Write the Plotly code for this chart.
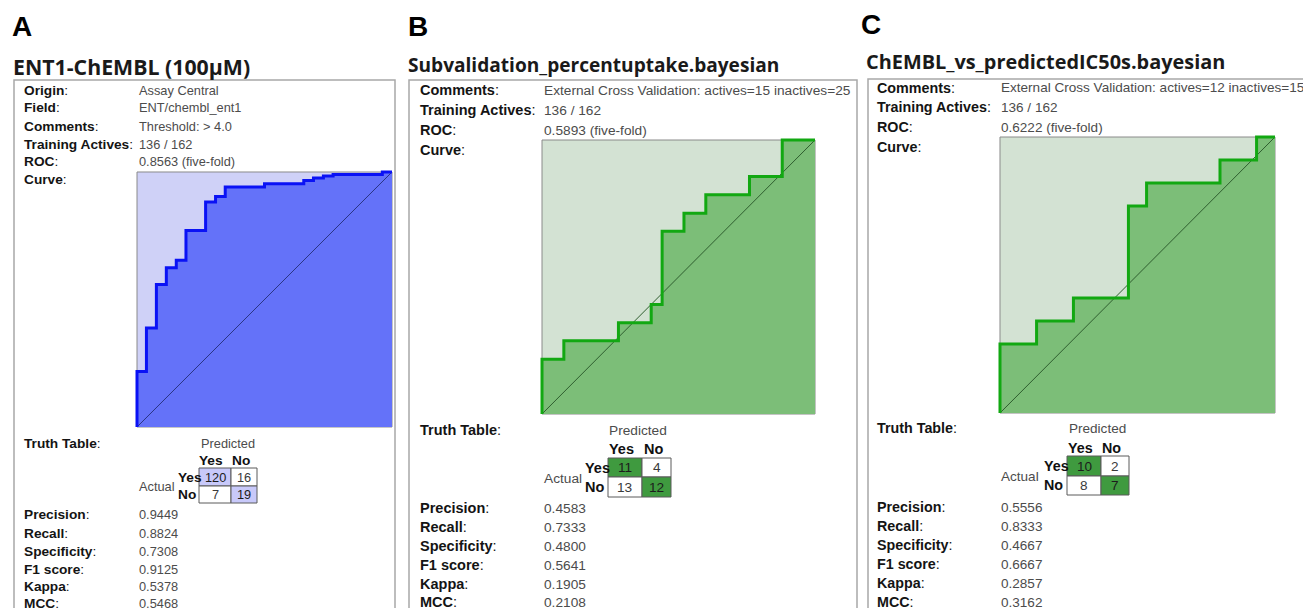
import plotly.graph_objects as go

# The page body has an 8px margin, so the figure is drawn 8px in from the corner.
OFF = 8
W, H = 1311 - OFF, 608 - OFF

# ---------------- data ----------------
panel_letters = ["A", "B", "C"]
titles = ["ENT1-ChEMBL (100µM)",
          "Subvalidation_percentuptake.bayesian",
          "ChEMBL_vs_predictedIC50s.bayesian"]

info_labels_A = ["Origin", "Field", "Comments", "Training Actives", "ROC", "Curve"]
info_values_A = ["Assay Central", "ENT/chembl_ent1", "Threshold: > 4.0",
                 "136 / 162", "0.8563 (five-fold)", ""]
info_labels_BC = ["Comments", "Training Actives", "ROC", "Curve"]
info_values_B = ["External Cross Validation: actives=15 inactives=25",
                 "136 / 162", "0.5893 (five-fold)", ""]
info_values_C = ["External Cross Validation: actives=12 inactives=15",
                 "136 / 162", "0.6222 (five-fold)", ""]

metric_labels = ["Precision", "Recall", "Specificity", "F1 score", "Kappa", "MCC"]
metrics_A = ["0.9449", "0.8824", "0.7308", "0.9125", "0.5378", "0.5468"]
metrics_B = ["0.4583", "0.7333", "0.4800", "0.5641", "0.1905", "0.2108"]
metrics_C = ["0.5556", "0.8333", "0.4667", "0.6667", "0.2857", "0.3162"]

truth_A = [[120, 16], [7, 19]]
truth_B = [[11, 4], [13, 12]]
truth_C = [[10, 2], [8, 7]]

fpr_A = [0, 0, 0.037, 0.076, 0.115, 0.154, 0.192, 0.269, 0.308, 0.346,
         0.500, 0.654, 0.692, 0.731, 0.769, 0.962, 1.0]
tpr_A = [0, 0.218, 0.388, 0.559, 0.625, 0.654, 0.771, 0.882, 0.904, 0.941,
         0.954, 0.967, 0.976, 0.984, 0.990, 1.0, 1.0]
fpr_B = [0, 0, 0.08, 0.28, 0.40, 0.44, 0.52, 0.60, 0.76, 0.88, 1.0]
tpr_B = [0, 0.200, 0.267, 0.333, 0.400, 0.667, 0.733, 0.800, 0.867, 1.0, 1.0]
fpr_C = [0, 0, 0.133, 0.267, 0.467, 0.533, 0.800, 0.933, 1.0]
tpr_C = [0, 0.250, 0.333, 0.417, 0.750, 0.833, 0.917, 1.0, 1.0]
diag = [0, 1]

tt_head = ["Yes", "No"]

# ---------------- layout / style ----------------
blue_style = dict(bg="#cfd1f7", fill="#6472f9", line="#0a12f5", diag="#2a3585", cell="#c8c9fa")
green_style = dict(bg="#d3e2d3", fill="#7cbe78", line="#12a812", diag="#2f5e2f", cell="#3f9a3f")

panels = [
    dict(letter=(10, 27), title=(11, 66), tfs=21.3, box=(14, 80, 395), lab_x=22, val_x=137,
         rows=[90, 108, 126, 144, 162, 180], plot=(137, 172, 392, 427),
         tt_y=443, pred_x=228, head_y=460, head_x=[211, 241],
         act=(137, 486), rowlab_x=176, cell_x=[199, 231, 257], cell_y=[468, 486, 503],
         met_y=[514, 533, 551, 569, 586, 603], lfs=13.7, vfs=12.8,
         labels=info_labels_A, values=info_values_A, metrics=metrics_A, truth=truth_A,
         fpr=fpr_A, tpr=tpr_A, style=blue_style),
    dict(letter=(406, 27), title=(406, 65), tfs=19.1, box=(409, 80, 857), lab_x=418, val_x=542,
         rows=[90, 110, 130, 150], plot=(542, 140, 815, 414),
         tt_y=430, pred_x=638, head_y=449, head_x=[621, 653],
         act=(542, 478), rowlab_x=583, cell_x=[608, 642, 671], cell_y=[458, 477, 497],
         met_y=[508, 527, 546, 565, 584, 602], lfs=14.5, vfs=13.7,
         labels=info_labels_BC, values=info_values_B, metrics=metrics_B, truth=truth_B,
         fpr=fpr_B, tpr=tpr_B, style=green_style),
    dict(letter=(859, 25), title=(864, 62), tfs=19.9, box=(868, 79, 1340), lab_x=875, val_x=999,
         rows=[88, 107, 127, 147], plot=(1000, 137, 1275, 413),
         tt_y=428, pred_x=1097, head_y=448, head_x=[1080, 1111],
         act=(999, 476), rowlab_x=1042, cell_x=[1067, 1101, 1129], cell_y=[456, 476, 495],
         met_y=[507, 526, 545, 564, 583, 602], lfs=14.3, vfs=13.55,
         labels=info_labels_BC, values=info_values_C, metrics=metrics_C, truth=truth_C,
         fpr=fpr_C, tpr=tpr_C, style=green_style),
]


def X(px):
    return (px - OFF) / W


def Y(py):
    return 1 - (py - OFF) / H


LAB_FONT = "Liberation Sans, Arial, sans-serif"
TITLE_FONT = "Open Sans, Noto Sans, sans-serif"
LAB_COL = "#141414"
VAL_COL = "#4c4c4c"

fig = go.Figure()
annotations = []
shapes = []
PAD = 0.015


def text(x, y, s, size, color=LAB_COL, family=LAB_FONT, xanchor="left"):
    annotations.append(dict(x=X(x), y=Y(y), xref="paper", yref="paper", text=s,
                            showarrow=False, xanchor=xanchor, yanchor="middle",
                            font=dict(size=size, color=color, family=family)))


for i, p in enumerate(panels):
    sfx = "" if i == 0 else str(i + 1)
    st = p["style"]
    # panel letter and title
    text(p["letter"][0], p["letter"][1], "<b>" + panel_letters[i] + "</b>", 28, "#000000")
    text(p["title"][0], p["title"][1], "<b>" + titles[i] + "</b>", p["tfs"], "#1a1a1a", TITLE_FONT)
    # card box
    bx0, by0, bx1 = p["box"]
    shapes.append(dict(type="rect", xref="paper", yref="paper", x0=X(bx0), x1=X(bx1),
                       y0=Y(640), y1=Y(by0), line=dict(color="#a8a8a8", width=1.5),
                       fillcolor="rgba(0,0,0,0)", layer="below"))
    # info rows
    for lab, val, ry in zip(p["labels"], p["values"], p["rows"]):
        text(p["lab_x"], ry, "<b>" + lab + "</b>:", p["lfs"])
        if val:
            text(p["val_x"], ry, val, p["vfs"], VAL_COL)
    # ROC axes
    l, t, r, b = p["plot"]
    w, h = r - l, b - t
    fig.update_layout(**{
        "xaxis" + sfx: dict(domain=[X(l - PAD * w), X(r + PAD * w)], range=[-PAD, 1 + PAD],
                            visible=False, fixedrange=True, anchor="y" + sfx),
        "yaxis" + sfx: dict(domain=[Y(b + PAD * h), Y(t - PAD * h)], range=[-PAD, 1 + PAD],
                            visible=False, fixedrange=True, anchor="x" + sfx),
    })
    xa, ya = "x" + sfx, "y" + sfx
    shapes.append(dict(type="rect", xref=xa, yref=ya, x0=0, x1=1, y0=0, y1=1,
                       fillcolor=st["bg"], line=dict(color="#8a8a8a", width=1), layer="below"))
    fig.add_trace(go.Scatter(x=p["fpr"], y=p["tpr"], mode="lines", line_shape="hv",
                             line=dict(width=0, color=st["fill"]), fill="tozeroy",
                             fillcolor=st["fill"], xaxis=xa, yaxis=ya, hoverinfo="skip",
                             showlegend=False))
    fig.add_trace(go.Scatter(x=diag, y=diag, mode="lines",
                             line=dict(width=1, color=st["diag"]), xaxis=xa, yaxis=ya,
                             hoverinfo="skip", showlegend=False))
    fig.add_trace(go.Scatter(x=p["fpr"], y=p["tpr"], mode="lines", line_shape="hv",
                             line=dict(width=3, color=st["line"]), xaxis=xa, yaxis=ya,
                             hoverinfo="skip", showlegend=False))
    # truth table
    text(p["lab_x"], p["tt_y"], "<b>Truth Table</b>:", p["lfs"])
    text(p["pred_x"], p["tt_y"], "Predicted", p["vfs"], VAL_COL, xanchor="center")
    for hx, hl in zip(p["head_x"], tt_head):
        text(hx, p["head_y"], "<b>" + hl + "</b>", p["lfs"], "#111111", xanchor="center")
    text(p["act"][0], p["act"][1], "Actual", p["vfs"], VAL_COL)
    cx, cy = p["cell_x"], p["cell_y"]
    for ri in range(2):
        text(p["rowlab_x"], (cy[ri] + cy[ri + 1]) / 2, "<b>" + tt_head[ri] + "</b>",
             p["lfs"], "#111111")
        for ci in range(2):
            filled = (ri == ci)
            shapes.append(dict(type="rect", xref="paper", yref="paper",
                               x0=X(cx[ci]), x1=X(cx[ci + 1]), y0=Y(cy[ri + 1]), y1=Y(cy[ri]),
                               fillcolor=st["cell"] if filled else "#ffffff",
                               line=dict(color="#5a5a5a", width=1), layer="below"))
            text((cx[ci] + cx[ci + 1]) / 2, (cy[ri] + cy[ri + 1]) / 2,
                 str(p["truth"][ri][ci]), p["vfs"],
                 "#1c1c1c" if filled else "#3a3a3a", xanchor="center")
    # metrics
    for lab, val, my in zip(metric_labels, p["metrics"], p["met_y"]):
        text(p["lab_x"], my, "<b>" + lab + "</b>:", p["lfs"])
        text(p["val_x"], my, val, p["vfs"], VAL_COL)

fig.update_layout(width=W, height=H, margin=dict(l=0, r=0, t=0, b=0),
                  paper_bgcolor="#ffffff", plot_bgcolor="rgba(0,0,0,0)",
                  showlegend=False, annotations=annotations, shapes=shapes)

fig.write_html("out.html", config={"displayModeBar": False})
